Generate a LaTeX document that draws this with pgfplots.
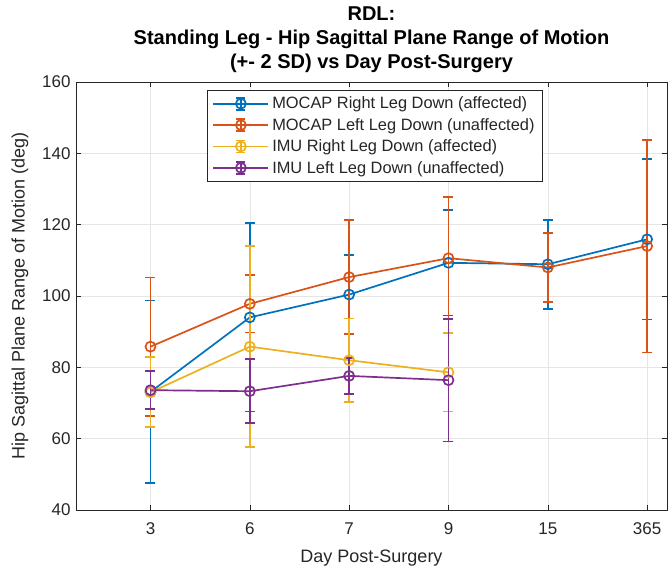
\documentclass[border=0pt]{standalone}
\usepackage{fontspec}
\setmainfont{Liberation Sans}
\usepackage{pgfplots}
\pgfplotsset{compat=1.18}
\definecolor{mblue}{rgb}{0,0.447,0.741}
\definecolor{morange}{rgb}{0.85,0.325,0.098}
\definecolor{myellow}{rgb}{0.929,0.694,0.125}
\definecolor{mpurple}{rgb}{0.494,0.184,0.556}
\definecolor{axgray}{rgb}{0.15,0.15,0.15}
\definecolor{gridgray}{rgb}{0.9,0.9,0.9}
\begin{document}
\begin{tikzpicture}
\begin{axis}[
  scale only axis, width=591pt, height=428pt,
  xmin=0.25, xmax=6.2, ymin=40, ymax=160,
  xtick={1,2,3,4,5,6}, xticklabels={3,6,7,9,15,365},
  ytick={40,60,80,100,120,140,160},
  /pgf/number format/assume math mode=true,
  tick label style={font=\fontsize{17}{20}\selectfont, text=axgray},
  xticklabel style={yshift=-9pt},
  yticklabel style={xshift=-2pt},
  tick align=inside, tick pos=both, major tick length=5pt,
  tick style={axgray, line width=0.6pt},
  axis line style={axgray, line width=0.8pt},
  grid=major, major grid style={gridgray, line width=0.6pt},
  xlabel={Day Post-Surgery},
  ylabel={Hip Sagittal Plane Range of Motion (deg)},
  label style={font=\fontsize{18}{21}\selectfont, text=axgray},
  xlabel style={at={(axis description cs:0.5,-0.113)}, anchor=center},
  ylabel style={at={(axis description cs:-0.0948,0.5)}, anchor=center},
  title={RDL:\\Standing Leg - Hip Sagittal Plane Range of Motion\\(+- 2 SD) vs Day Post-Surgery},
  title style={at={(axis description cs:0.5,1)}, anchor=south, align=center, font=\bfseries\fontsize{20}{24}\selectfont, inner sep=3pt},
  every axis plot/.append style={line width=1.7pt, mark=o, mark size=5pt, mark options={solid}},
  error bars/y dir=both, error bars/y explicit,
  error bars/error bar style={line width=1.7pt},
  error bars/error mark options={rotate=90, mark size=5pt, line width=1.7pt},
  legend image code/.code={
    \draw[#1,mark=none] (0pt,0pt) -- (55pt,0pt);
    \draw[#1,mark=none] (27.5pt,-6pt) -- (27.5pt,6pt);
    \draw[#1,mark=none] (23pt,-6pt) -- (32pt,-6pt);
    \draw[#1,mark=none] (23pt,6pt) -- (32pt,6pt);
    \draw[#1,only marks] plot coordinates {(27.5pt,0pt)};
  },
  legend style={at={(axis description cs:0.222,0.981)}, anchor=north west,
    font=\fontsize{16.4}{19}\selectfont, text=axgray, draw=axgray, line width=0.7pt,
    fill=white, inner xsep=5pt, inner ysep=2.5pt, nodes={inner ysep=4pt, inner xsep=3pt}, cells={anchor=west}},
  legend cell align=left,
]
\addplot[mblue] coordinates {
  (1,73.1) +- (0,25.6)
  (2,94.0) +- (0,26.4)
  (3,100.4) +- (0,11.1)
  (4,109.3) +- (0,14.8)
  (5,108.9) +- (0,12.5)
  (6,115.9) +- (0,22.5)
};
\addlegendentry{MOCAP Right Leg Down (affected)}
\addplot[morange] coordinates {
  (1,85.8) +- (0,19.4)
  (2,97.8) +- (0,8.0)
  (3,105.3) +- (0,16.0)
  (4,110.6) +- (0,17.1)
  (5,108.0) +- (0,9.6)
  (6,114.0) +- (0,29.8)
};
\addlegendentry{MOCAP Left Leg Down (unaffected)}
\addplot[myellow] coordinates {
  (1,73.0) +- (0,9.8)
  (2,85.8) +- (0,28.2)
  (3,82.0) +- (0,11.7)
  (4,78.6) +- (0,11.0)
};
\addlegendentry{IMU Right Leg Down (affected)}
\addplot[mpurple] coordinates {
  (1,73.6) +- (0,5.3)
  (2,73.3) +- (0,9.0)
  (3,77.6) +- (0,5.0)
  (4,76.4) +- (0,17.2)
};
\addlegendentry{IMU Left Leg Down (unaffected)}
\end{axis}
\pgfresetboundingbox
\path ([xshift=-76pt,yshift=-63pt]current axis.south west) rectangle ([xshift=2pt,yshift=82pt]current axis.north east);
\end{tikzpicture}
\end{document}
